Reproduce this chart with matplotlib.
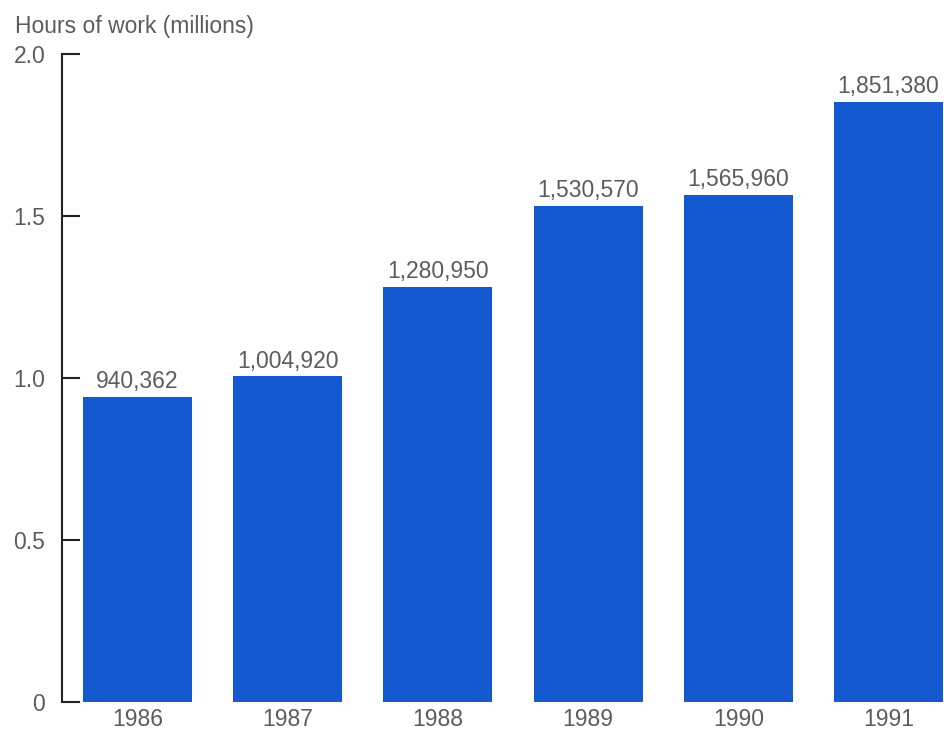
import matplotlib.pyplot as plt
import numpy as np

# hours of work per year
years = ['1986', '1987', '1988', '1989', '1990', '1991']
hours = [940362, 1004920, 1280950, 1530570, 1565960, 1851380]

plt.rcParams['font.family'] = ['Liberation Sans', 'DejaVu Sans']
textColor = '#5c5c5c'
fs = 16.5

fig = plt.figure(figsize=(9.44, 7.31), dpi=100)
ax = fig.add_axes([62/944, 29/731, 882/944, 648/731])

x = np.arange(len(years))
vals = np.array(hours) / 1e6
ax.bar(x, vals, width=0.726, color='#1459cf', edgecolor='none')

for xi, h, v in zip(x, hours, vals):
    ax.text(xi, v + 0.012, '{:,}'.format(h), ha='center', va='bottom',
            fontsize=fs, color=textColor)

ax.set_xlim(-0.503, 5.37)
ax.set_ylim(0, 2.0)
ax.set_yticks([0, 0.5, 1.0, 1.5, 2.0])
ax.set_yticklabels(['0', '0.5', '1.0', '1.5', '2.0'])
ax.set_xticks(x)
ax.set_xticklabels(years)

for s in ['top', 'right', 'bottom']:
    ax.spines[s].set_visible(False)
ax.spines['left'].set_color('#222222')
ax.spines['left'].set_linewidth(1.5)
ax.tick_params(axis='y', direction='in', length=13, width=1.5, color='#222222',
               labelsize=fs, labelcolor=textColor, pad=12)
ax.tick_params(axis='x', length=0, labelsize=fs, labelcolor=textColor, pad=4)

fig.text(15/944, 1 - 26/731, 'Hours of work (millions)', ha='left', va='center',
         fontsize=fs, color=textColor)

fig.savefig('out.png', dpi=100)
